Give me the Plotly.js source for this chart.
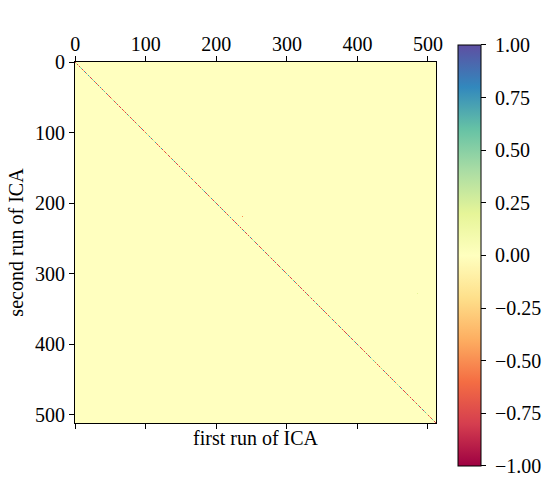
<!DOCTYPE html>
<html>
<head>
<meta charset="utf-8">
<script src="https://cdn.plot.ly/plotly-3.0.1.min.js"></script>
<style>html,body{margin:0;padding:0;background:#fff;}#chart{width:547px;height:477px;}</style>
</head>
<body>
<div id="chart"></div>
<script>
// ---- data ----
const nComponents = 512;                 // matrix is 512 x 512
const axisTicks = [0, 100, 200, 300, 400, 500];
const colorbarTicks = [-1, -0.75, -0.5, -0.25, 0, 0.25, 0.5, 0.75, 1];
const backgroundCorr = 0.0;              // off-diagonal correlation (~0)
// diagonal correlations, one code per component
const diagCodes = [
  "RbgRyBRt rbRgoBRR byrBtRgR bRoBgrRb",
  "bRgRBorR tbRyRgBr RbRoRgtB RrbgRyBR",
  "RgbRrBoR ytRbBgRR rbRgoRBt yRbRrgBR",
  "BRyrRbgR oBRtRbRy gRBrbRoR tgBRRyrb",
  "RoBgRbRy rRBtgRbR oRyBRgrb RtRBoyRg",
  "bRRgoBrR ytRbRgBR rRoybRtB gRRbyRoR",
  "gBRrRtyb RoRBgRRb yRtrBRog RbRyBgRr",
  "RtbRgRoB ryRbgRBR tRoRybRg BrRtRgbR",
  "oRBgyRbR rtRBgoRR ybRgBtRr oRbBRgyR",
  "RbRtgoRB yRrbRgBR oRtRybgR BRrgRobR",
  "tRgBRyRo bRrRgBtR yoRbRgRB rtRgoRyb",
  "RBgrRoyR bRtgRRBy oRbRgrtR BgyRobRR",
  "gRbRoBty RRgrbRoB RytgRbRr BoRygRtb",
  "RRoBgyRb tRrgBRoR bytRgRBr oRgbRtyR",
  "bgRoRBry RtgRbRoB gRyRrtbR oBgRRyRb",
  "RtoBRgrb RyRgBoRt RbygRRoB rRtbgRyR"
];
// apparent (rendered) colours of the diagonal: pink-red, orange, pale, teal, blue
const codeValues = {R: -0.78, r: -0.6, o: -0.4, y: -0.2, g: 0.25, t: 0.45, b: 0.6, B: 0.75};
// a few isolated off-diagonal correlations
const offRows = [219, 276, 328];
const offCols = [237, 222, 485];
const offVals = [-0.5, -0.2, 0.2];

// matplotlib "Spectral"
const spectral = ["#9e0142","#d53e4f","#f46d43","#fdae61","#fee08b","#ffffbf",
                  "#e6f598","#abdda4","#66c2a5","#3288bd","#5e4fa2"];

// ---- build matrix ----
const codes = diagCodes.join("").replace(/\s+/g, "");
const z = [];
for (let i = 0; i < nComponents; i++) {
  const row = new Array(nComponents).fill(backgroundCorr);
  const c = codes.charAt(i);
  if (c in codeValues) row[i] = codeValues[c];
  z.push(row);
}
for (let k = 0; k < offRows.length; k++) z[offRows[k]][offCols[k]] = offVals[k];
const idx = Array.from({length: nComponents}, (_, i) => i);

const font = {family: "Liberation Serif, Times New Roman, serif", size: 20, color: "#000"};
const colorscale = spectral.map((c, i) => [i / (spectral.length - 1), c]);
const cbText = colorbarTicks.map(v => "\u00A0" + v.toFixed(2).replace("-", "\u2212"));

const trace = {
  type: "heatmap",
  z: z, x: idx, y: idx,
  zmin: -1, zmax: 1,
  colorscale: colorscale,
  zsmooth: false,
  hoverinfo: "skip",
  colorbar: {
    thickness: 23,
    lenmode: "pixels", len: 421,
    x: 1.061, xanchor: "left", xpad: 0,
    y: 0.464, yanchor: "middle", ypad: 0,
    outlinewidth: 1, outlinecolor: "#000",
    ticks: "outside", ticklen: 5, tickwidth: 1, tickcolor: "#000",
    tickmode: "array", tickvals: colorbarTicks, ticktext: cbText,
    tickfont: font
  }
};

const layout = {
  width: 547, height: 477,
  margin: {l: 75, r: 111, t: 62, b: 54, autoexpand: false},
  paper_bgcolor: "#fff", plot_bgcolor: "#fff",
  font: font,
  xaxis: {
    range: [-0.5, nComponents - 0.5], side: "top",
    tickvals: axisTicks, ticks: "outside", ticklen: 5, tickwidth: 1, tickcolor: "#000",
    showline: true, linecolor: "#000", linewidth: 1, mirror: "ticks",
    showgrid: false, zeroline: false, tickfont: font, ticklabelstandoff: -3
  },
  yaxis: {
    range: [nComponents - 0.5, -0.5],
    tickvals: axisTicks, ticks: "outside", ticklen: 5, tickwidth: 1, tickcolor: "#000",
    showline: true, linecolor: "#000", linewidth: 1, mirror: true,
    showgrid: false, zeroline: false, tickfont: font,
    title: {text: "second run of ICA", font: font, standoff: 6}
  },
  annotations: [{
    text: "first run of ICA", xref: "paper", yref: "paper",
    x: 0.5, y: -0.0415, xanchor: "center", yanchor: "middle",
    showarrow: false, font: font
  }]
};

Plotly.newPlot("chart", [trace], layout, {staticPlot: true, displayModeBar: false});
</script>
</body>
</html>
